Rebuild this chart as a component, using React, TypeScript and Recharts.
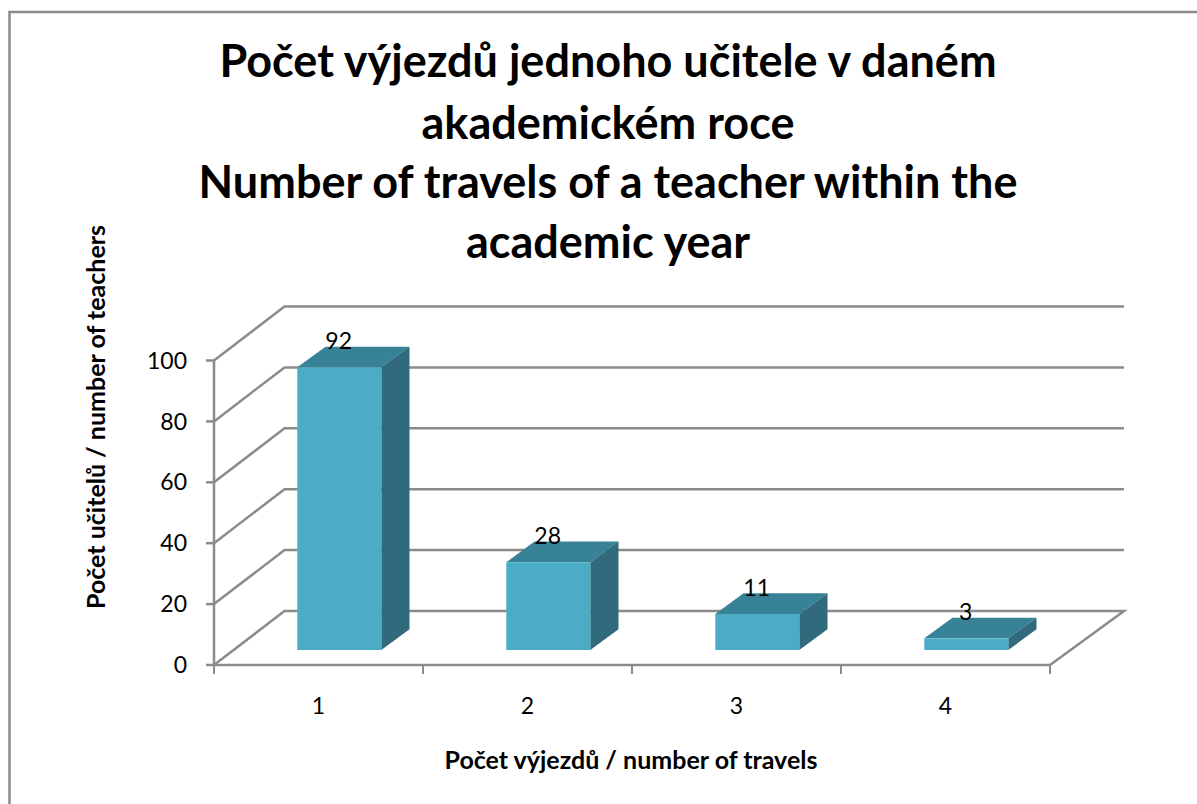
import React from 'react';
import { BarChart, Bar, XAxis, YAxis, CartesianGrid, LabelList, Customized } from 'recharts';

const categories = ['1', '2', '3', '4'];
const travelsValues = [92, 28, 11, 3];
const yTicks = [0, 20, 40, 60, 80, 100];
const titleLines = [
  'Počet výjezdů jednoho učitele v daném',
  'akademickém roce',
  'Number of travels of a teacher within the',
  'academic year',
];
const xTitle = 'Počet výjezdů / number of travels';
const yTitle = 'Počet učitelů / number of teachers';

const data = categories.map((c, i) => ({ category: c, value: travelsValues[i] }));

const FONT = 'Lato, Carlito, Calibri, sans-serif';
const GRID = '#8b8b8b';
const DX = 70.5;
const DY = 54;
const BAND = 209;

const gridLine = (p: any) => {
  const { x1, x2, y1, index } = p;
  const isFloor = Math.abs(y1 - 665) < 2;
  const pts = `${x1},${y1} ${x1 + DX},${y1 - DY} ${x2 + 74},${y1 - DY}` + (isFloor ? ` ${x2},${y1}` : '');
  return <polyline key={`g${index}-${y1}`} points={pts} fill="none" stroke={GRID} strokeWidth={2.5} />;
};

const Box = (p: any) => {
  const { x, y, width, height } = p;
  const fx = x + 20.6;
  const bottom = y + height - 15;
  const top = y - 17.5;
  const r = fx + width;
  const dx = 28.2;
  const dy = 20.7;
  return (
    <g>
      <polygon points={`${fx},${top} ${fx + dx},${top - dy} ${r + dx},${top - dy} ${r},${top}`} fill="#388297" />
      <polygon points={`${r},${top} ${r + dx},${top - dy} ${r + dx},${bottom - dy} ${r},${bottom}`} fill="#31697d" />
      <rect x={fx} y={top} width={width} height={bottom - top} fill="#4bacc6" />
    </g>
  );
};

const valueLabel = (p: any) => {
  const { x, y, width, value } = p;
  return (
    <text x={x + 20 + width / 2} y={y - 17 - 19} textAnchor="middle" fontFamily={FONT} fontSize={23} fill="#000">
      {value}
    </text>
  );
};

const xTick = (p: any) => {
  const { x, y, payload } = p;
  const left = x - BAND / 2;
  return (
    <g>
      <line x1={left} x2={left} y1={y} y2={y + 9} stroke={GRID} strokeWidth={2} />
      {payload.index === categories.length - 1 && (
        <line x1={left + BAND} x2={left + BAND} y1={y} y2={y + 9} stroke={GRID} strokeWidth={2} />
      )}
      <text x={x} y={y + 49} textAnchor="middle" fontFamily={FONT} fontSize={23} fill="#000">
        {payload.value}
      </text>
    </g>
  );
};

const Decor = () => (
  <g>
    <polyline points="9.5,804 9.5,12 1197,12" fill="none" stroke="#8b8b8b" strokeWidth={2.5} />
    <text textAnchor="middle" fontFamily={FONT} fontWeight={700} fontSize={45} fill="#000">
      {titleLines.map((l, i) => (
        <tspan key={i} x={608} y={[77, 139, 198, 258][i]}>{l}</tspan>
      ))}
    </text>
    <text x={631} y={769} textAnchor="middle" fontFamily={FONT} fontWeight={700} fontSize={25} fill="#000">{xTitle}</text>
    <text transform="translate(105,417) rotate(-90)" textAnchor="middle" fontFamily={FONT} fontWeight={700} fontSize={25} fill="#000">{yTitle}</text>
  </g>
);

export default function App() {
  return (
    <div style={{ position: 'absolute', left: 0, top: 0, width: 1197, height: 804, background: '#fff' }}>
      <BarChart
        width={1197}
        height={804}
        data={data}
        margin={{ top: 360.5, right: 147, bottom: 79, left: 154 }}
        barCategoryGap="30%"
      >
        <Customized component={Decor} />
        <CartesianGrid horizontal={gridLine} vertical={false} />
        <XAxis
          dataKey="category"
          height={60}
          stroke={GRID}
          strokeWidth={2.5}
          tickLine={false}
          tickSize={0}
          tickMargin={0}
          tick={xTick}
          interval={0}
        />
        <YAxis
          width={60}
          domain={[0, 100]}
          ticks={yTicks}
          stroke={GRID}
          strokeWidth={2.5}
          tickSize={8}
          tickMargin={19}
          tick={{ fontFamily: FONT, fontSize: 23, fill: '#000' }}
        />
        <Bar dataKey="value" shape={Box} isAnimationActive={false}>
          <LabelList dataKey="value" content={valueLabel} />
        </Bar>
      </BarChart>
    </div>
  );
}
